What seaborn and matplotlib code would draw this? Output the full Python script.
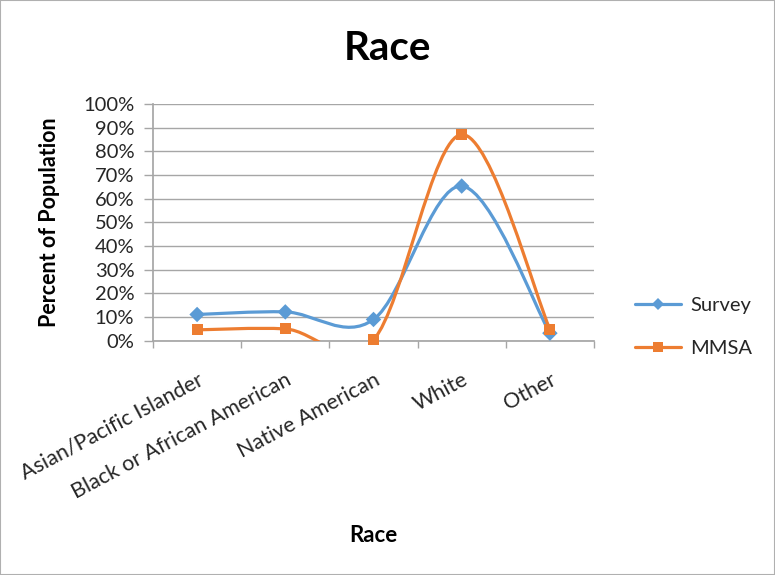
import numpy as np
import pandas as pd
import matplotlib
matplotlib.use("Agg")
import matplotlib.pyplot as plt
from matplotlib.path import Path
from matplotlib.patches import PathPatch, Rectangle
from matplotlib.lines import Line2D
from matplotlib.ticker import FuncFormatter, FixedLocator
import seaborn as sns

# ---- data -------------------------------------------------------------
categories = ["Asian/Pacific Islander", "Black or African American",
              "Native American", "White", "Other"]
survey = [11.0, 12.1, 8.9, 65.3, 3.1]
mmsa = [4.5, 4.9, 0.3, 87.1, 4.8]
series_names = ["Survey", "MMSA"]
y_ticks = list(range(0, 101, 10))

colors = {"Survey": "#5B9BD5", "MMSA": "#ED7D31"}
markers = {"Survey": "D", "MMSA": "s"}
text_color = "#262626"

sns.set_theme(style="white")
plt.rcParams["font.family"] = ["Lato", "DejaVu Sans"]

df = pd.DataFrame({
    "Race": categories * 2,
    "x": list(range(len(categories))) * 2,
    "Percent": survey + mmsa,
    "Series": [series_names[0]] * len(survey) + [series_names[1]] * len(mmsa),
})

fig = plt.figure(figsize=(7.75, 5.75), dpi=100)
ax = fig.add_axes([153 / 775, 1 - 340.5 / 575, (594 - 153) / 775, (340.5 - 104) / 575])


def smooth_path(xs, ys):
    """Cubic Bezier path through the points (Catmull-Rom style tangents)."""
    pts = np.column_stack([xs, ys]).astype(float)
    n = len(pts)
    verts = [pts[0]]
    codes = [Path.MOVETO]
    for i in range(n - 1):
        p_prev = pts[i - 1] if i > 0 else pts[i]
        p0, p1 = pts[i], pts[i + 1]
        p_next = pts[i + 2] if i + 2 < n else pts[i + 1]
        c1 = p0 + (p1 - p_prev) / 6.0
        c2 = p1 - (p_next - p0) / 6.0
        verts += [c1, c2, p1]
        codes += [Path.CURVE4] * 3
    return Path(verts, codes)


for name in series_names:
    sub = df[df["Series"] == name]
    patch = PathPatch(smooth_path(sub["x"].values, sub["Percent"].values),
                      facecolor="none", edgecolor=colors[name], lw=2.3,
                      capstyle="round", joinstyle="round", zorder=3)
    ax.add_patch(patch)

sns.scatterplot(data=df, x="x", y="Percent", hue="Series", style="Series",
                palette=colors, markers=markers, s=62, linewidth=0,
                legend=False, ax=ax, zorder=4, clip_on=False)

ax.set_xlim(-0.5, len(categories) - 0.5)
ax.set_ylim(0, 100)

# y axis
ax.yaxis.set_major_locator(FixedLocator(y_ticks))
ax.yaxis.set_major_formatter(FuncFormatter(lambda v, _: f"{v:.0f}%"))
ax.grid(axis="y", color="#a6a6a6", lw=1.0)
ax.grid(axis="x", visible=False)
ax.tick_params(axis="y", length=6.5, width=1.0, color="#a6a6a6", pad=7,
               labelsize=14.5, labelcolor=text_color, left=True)

# x axis: labels at categories, tick marks at category boundaries
ax.set_xticks(range(len(categories)))
ax.set_xticklabels(categories, rotation=28, ha="right", rotation_mode="anchor")
ax.tick_params(axis="x", which="major", length=0, pad=21, labelsize=15.5,
               labelcolor=text_color)
ax.set_xticks(np.arange(-0.5, len(categories), 1.0), minor=True)
ax.tick_params(axis="x", which="minor", length=5, width=1.0, color="#a6a6a6",
               bottom=True)

for side in ["top", "right"]:
    ax.spines[side].set_visible(False)
ax.spines["left"].set_color("#a6a6a6")
ax.spines["bottom"].set_color("#a6a6a6")
ax.set_axisbelow(True)

ax.set_xlabel("Race", fontsize=16, fontweight="bold", labelpad=0,
              color="#000000")
ax.xaxis.set_label_coords(0.5, -0.78)
ax.set_ylabel("Percent of Population", fontsize=15.5, fontweight="bold",
              color="#000000")
ax.yaxis.set_label_coords(-0.21, 0.5)

fig.text(0.5, 1 - 49 / 575, "Race", ha="center", va="center",
         fontsize=29, fontweight="bold", color="#000000")

handles = [Line2D([0], [0], color=colors[n], lw=2.3, marker=markers[n],
                  markersize=7.5 if n == "MMSA" else 6.5, markeredgewidth=0)
           for n in series_names]
leg = fig.legend(handles, series_names, loc="center left",
                 bbox_to_anchor=(627 / 775, 1 - 327 / 575), frameon=False,
                 fontsize=14.5, handlelength=2.3, handletextpad=0.45,
                 labelspacing=1.3, borderaxespad=0)
for t in leg.get_texts():
    t.set_color(text_color)

fig.add_artist(Rectangle((0, 0), 1, 1, transform=fig.transFigure,
                         fill=False, edgecolor="#b0b0b0", lw=1.5))

fig.savefig("out.png", dpi=100)
